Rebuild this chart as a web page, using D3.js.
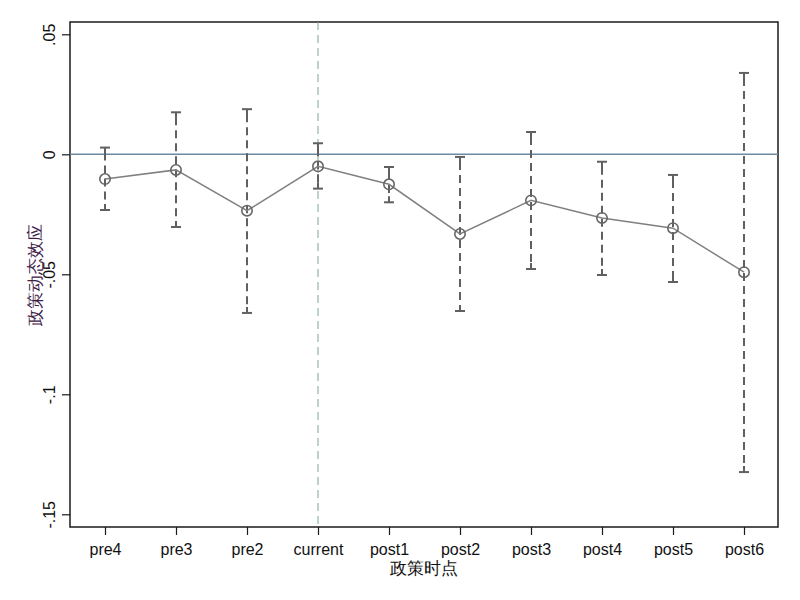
<!DOCTYPE html>
<html>
<head>
<meta charset="utf-8">
<script src="https://cdn.jsdelivr.net/npm/d3@7"></script>
<style>
body { margin: 0; background: #fff; }
svg { display: block; }
text { font-family: "Liberation Sans", Arial, sans-serif; }
</style>
</head>
<body>
<svg id="chart" width="800" height="600"></svg>
<script>
const categories = ["pre4","pre3","pre2","current","post1","post2","post3","post4","post5","post6"];
const estimates = [-0.0103,-0.0065,-0.0235,-0.0050,-0.0125,-0.0332,-0.0192,-0.0265,-0.0308,-0.0491];
const ciHigh = [0.0028,0.0175,0.0188,0.0046,-0.0053,-0.0011,0.0093,-0.0031,-0.0086,0.0339];
const ciLow = [-0.0232,-0.0303,-0.0661,-0.0143,-0.0200,-0.0653,-0.0478,-0.0503,-0.0532,-0.1324];
const yTicks = [0.05, 0, -0.05, -0.1, -0.15];
const yTickLabels = [".05", "0", "-.05", "-.1", "-.15"];
const yTitle = "政策动态效应";
const xTitle = "政策时点";
const refCategory = "current";

const svg = d3.select("#chart");
const L = 70, R = 778, T = 22, B = 527;

const x = d3.scalePoint().domain(categories).range([105, 744]);
const y = d3.scaleLinear().domain([-0.15, 0.05]).range([514.3, 34.3]);

const data = categories.map((c, i) => ({c, est: estimates[i], hi: ciHigh[i], lo: ciLow[i]}));

// frame
svg.append("rect").attr("x", L).attr("y", T).attr("width", R - L).attr("height", B - T)
  .attr("fill", "none").attr("stroke", "#1a1a1a").attr("stroke-width", 1.5);

// zero line
svg.append("line").attr("x1", L).attr("x2", R).attr("y1", y(0)).attr("y2", y(0))
  .attr("stroke", "#6a8aa4").attr("stroke-width", 1.5);

// reference vertical line
svg.append("line").attr("x1", x(refCategory)).attr("x2", x(refCategory))
  .attr("y1", T).attr("y2", B)
  .attr("stroke", "#7fa592").attr("stroke-width", 1).attr("stroke-dasharray", "8,5");

// y axis
const yAxis = d3.axisLeft(y).tickValues(yTicks).tickSize(8).tickFormat((d, i) => yTickLabels[i]);
const gy = svg.append("g").attr("transform", `translate(${L},0)`).call(yAxis);
gy.select(".domain").remove();
gy.selectAll(".tick line").attr("stroke", "#1a1a1a").attr("stroke-width", 1.2);
gy.selectAll(".tick text")
  .attr("x", 0).attr("y", 0).attr("dy", 0)
  .attr("transform", "translate(-15,0) rotate(-90)")
  .attr("text-anchor", "middle")
  .attr("font-size", 16).attr("fill", "#111");

// x axis
const xAxis = d3.axisBottom(x).tickSize(8);
const gx = svg.append("g").attr("transform", `translate(0,${B})`).call(xAxis);
gx.select(".domain").remove();
gx.selectAll(".tick line").attr("stroke", "#1a1a1a").attr("stroke-width", 1.2);
gx.selectAll(".tick text").attr("y", 28).attr("dy", 0)
  .attr("font-size", 16).attr("fill", "#111");

// error bars (dashed)
const g = svg.append("g");
g.selectAll(".bar").data(data).join("line")
  .attr("x1", d => x(d.c)).attr("x2", d => x(d.c))
  .attr("y1", d => y(d.hi) + 5).attr("y2", d => y(d.lo) - 5)
  .attr("stroke", "#606060").attr("stroke-width", 2).attr("stroke-dasharray", "8,5");
g.selectAll(".capHi").data(data).join("line")
  .attr("x1", d => x(d.c) - 5).attr("x2", d => x(d.c) + 5)
  .attr("y1", d => y(d.hi)).attr("y2", d => y(d.hi))
  .attr("stroke", "#606060").attr("stroke-width", 2);
g.selectAll(".capHiS").data(data).join("line")
  .attr("x1", d => x(d.c)).attr("x2", d => x(d.c))
  .attr("y1", d => y(d.hi)).attr("y2", d => y(d.hi) + 6)
  .attr("stroke", "#606060").attr("stroke-width", 2);
g.selectAll(".capLo").data(data).join("line")
  .attr("x1", d => x(d.c) - 5).attr("x2", d => x(d.c) + 5)
  .attr("y1", d => y(d.lo)).attr("y2", d => y(d.lo))
  .attr("stroke", "#606060").attr("stroke-width", 2);
g.selectAll(".capLoS").data(data).join("line")
  .attr("x1", d => x(d.c)).attr("x2", d => x(d.c))
  .attr("y1", d => y(d.lo)).attr("y2", d => y(d.lo) - 6)
  .attr("stroke", "#606060").attr("stroke-width", 2);

// connecting line
const line = d3.line().x(d => x(d.c)).y(d => y(d.est));
svg.append("path").datum(data).attr("d", line)
  .attr("fill", "none").attr("stroke", "#808080").attr("stroke-width", 1.5);

// points
svg.selectAll(".pt").data(data).join("circle")
  .attr("cx", d => x(d.c)).attr("cy", d => y(d.est)).attr("r", 5.2)
  .attr("fill", "none").attr("stroke", "#666").attr("stroke-width", 1.6);

// titles
svg.append("text").attr("transform", `translate(41,${(T + B) / 2}) rotate(-90)`)
  .attr("text-anchor", "middle").attr("font-size", 17).attr("fill", "#3e2047")
  .attr("font-family", "'Noto Sans CJK SC', sans-serif")
  .text(yTitle);
svg.append("text").attr("x", (L + R) / 2).attr("y", 574)
  .attr("text-anchor", "middle").attr("font-size", 16.5).attr("fill", "#111")
  .attr("font-family", "'Noto Sans CJK SC', sans-serif")
  .text(xTitle);
</script>
</body>
</html>
